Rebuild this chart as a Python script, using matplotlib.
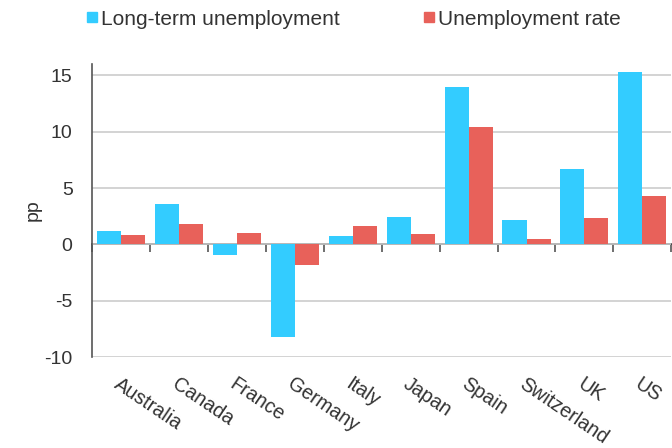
import numpy as np
import matplotlib.pyplot as plt
from matplotlib.lines import Line2D

countries = ["Australia", "Canada", "France", "Germany", "Italy",
             "Japan", "Spain", "Switzerland", "UK", "US"]
long_term = [1.2, 3.6, -0.95, -8.25, 0.75, 2.4, 14.0, 2.2, 6.7, 15.3]
unemp_rate = [0.8, 1.8, 1.05, -1.85, 1.6, 0.9, 10.4, 0.45, 2.35, 4.25]

blue = "#33ccff"
red = "#e8615a"
txt = "#333333"

plt.rcParams["font.family"] = ["Liberation Sans", "DejaVu Sans"]
plt.rcParams["axes.unicode_minus"] = False

fig = plt.figure(figsize=(6.72, 4.48), dpi=100)
ax = fig.add_axes([0.137, 0.203, 0.862, 0.654])

x = np.arange(len(countries))
w = 0.415
ax.bar(x - w / 2, long_term, w, color=blue, zorder=3)
ax.bar(x + w / 2, unemp_rate, w, color=red, zorder=3)

ax.set_xlim(-0.5, len(countries) - 0.5)
ax.set_ylim(-10, 16)
ax.set_yticks([-10, -5, 0, 5, 10, 15])
ax.yaxis.grid(True, color="#cccccc", linewidth=1.2, zorder=0)
ax.tick_params(axis="y", length=0, pad=14, labelsize=14, labelcolor=txt)
ax.set_ylabel("pp", fontsize=14, color=txt, labelpad=2)

for s in ["top", "right", "bottom"]:
    ax.spines[s].set_visible(False)
ax.spines["left"].set_color("#555555")
ax.spines["left"].set_linewidth(1.2)

# category names sit at the bottom, rotated
ax.set_xticks(x)
ax.set_xticklabels(countries, rotation=-34, ha="left", va="top",
                   rotation_mode="anchor", fontsize=14.2, color=txt)
ax.tick_params(axis="x", length=0, pad=12.5)

# zero line with boundary ticks
zero = ax.secondary_xaxis(10 / 26)
zero.set_xticks(np.arange(len(countries) + 1) - 0.5)
zero.set_xticklabels([])
zero.tick_params(axis="x", length=6, width=1.2, color="#555555", direction="out")
zero.spines["bottom"].set_color("#333333")
zero.spines["bottom"].set_linewidth(1.2)

handles = [Line2D([], [], marker="s", linestyle="none", markersize=7.5,
                  color=blue, label="Long-term unemployment"),
           Line2D([], [], marker="s", linestyle="none", markersize=7.5,
                  color=red, label="Unemployment rate")]
leg = fig.legend(handles=handles, ncol=2, frameon=False, fontsize=15,
                 loc="upper left", bbox_to_anchor=(0.098, 1.02),
                 handletextpad=0.1, handlelength=0.7, columnspacing=3.9)
for t in leg.get_texts():
    t.set_color(txt)

fig.savefig("out.png", dpi=100)
